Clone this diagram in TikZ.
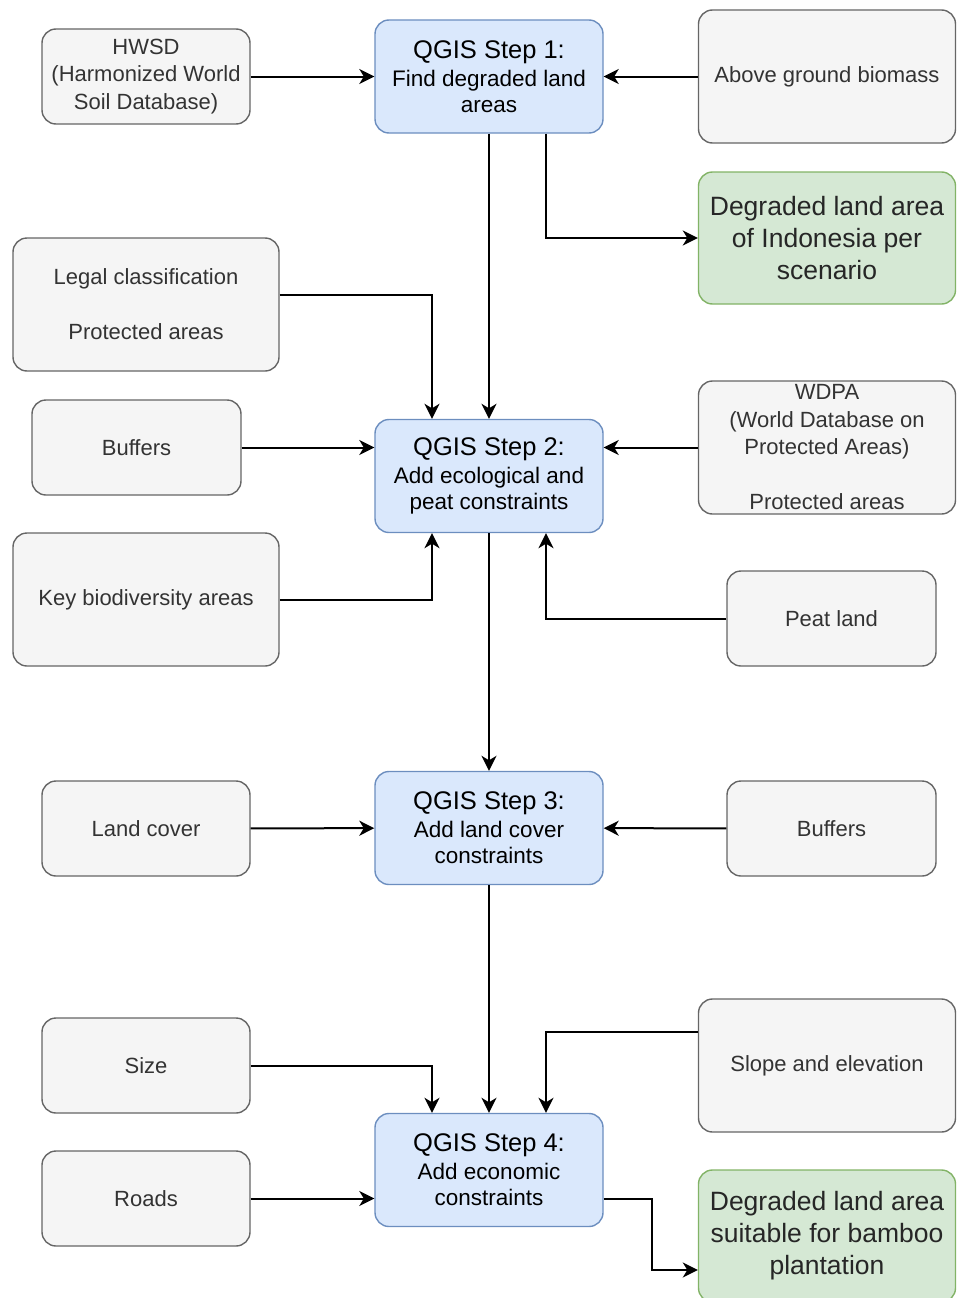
\documentclass[tikz,border=0pt]{standalone}
\usepackage{fontspec}
\setmainfont{Liberation Sans}
\usepackage{tikz}
\usetikzlibrary{positioning, calc, shapes, arrows.meta}

\definecolor{grayfill}{HTML}{F5F5F5}
\definecolor{grayline}{HTML}{666666}
\definecolor{graytext}{HTML}{333333}
\definecolor{bluefill}{HTML}{DAE8FC}
\definecolor{blueline}{HTML}{6C8EBF}
\definecolor{greenfill}{HTML}{D5E8D4}
\definecolor{greenline}{HTML}{82B366}

\newcommand{\steptitle}{\fontsize{25.5}{30}\selectfont}

\tikzset{
	databox/.style = {draw = grayline, fill = grayfill, text = graytext, line width = 1.4pt,
		rounded corners = 14pt, align = center, inner sep = 0pt,
		font = \fontsize{22}{27.5}\selectfont},
	stepbox/.style = {draw = blueline, fill = bluefill, text = black, line width = 1.4pt,
		rounded corners = 14pt, align = center, inner sep = 0pt,
		minimum width = 228pt, minimum height = 113pt,
		font = \fontsize{22.5}{26}\selectfont},
	resultbox/.style = {draw = greenline, fill = greenfill, text = black!85, line width = 1.4pt,
		rounded corners = 14pt, align = center, inner sep = 0pt,
		minimum width = 257pt, minimum height = 132pt,
		font = \fontsize{26.5}{32}\selectfont},
	flow/.style = {line width = 2pt, -{Stealth[length = 15pt, width = 15pt, inset = 4.5pt]}}
}

\begin{document}
\begin{tikzpicture}[x = 1pt, y = -1pt]
	\useasboundingbox (0,0) rectangle (956,1298);

	\node[stepbox] (step1) at (489,76.5) {{\steptitle QGIS Step 1:}\\[2pt]Find degraded land\\areas};
	\node[stepbox] (step2) at (489,476) {{\steptitle QGIS Step 2:}\\[2pt]Add ecological and\\peat constraints};
	\node[stepbox] (step3) at (489,828) {{\steptitle QGIS Step 3:}\\[2pt]Add land cover\\constraints};
	\node[stepbox] (step4) at (489,1170) {{\steptitle QGIS Step 4:}\\[2pt]Add economic\\constraints};

	\node[databox, minimum width = 208pt, minimum height = 95pt] (hwsd) at (146,76.5) {HWSD\\(Harmonized World\\Soil Database)};
	\node[databox, minimum width = 257pt, minimum height = 133pt] (biomass) at (827,76.5) {Above ground biomass};
	\node[resultbox] (degraded) at (827,238) {Degraded land area\\of Indonesia per\\scenario};

	\node[databox, minimum width = 266pt, minimum height = 133pt] (legal) at (146,304.5) {Legal classification\\\\Protected areas};
	\node[databox, minimum width = 209pt, minimum height = 95pt] (buffersleft) at (136.5,447.5) {Buffers};
	\node[databox, minimum width = 257pt, minimum height = 133pt] (wdpa) at (827,447.5) {WDPA\\(World Database on\\Protected Areas)\\\\Protected areas};
	\node[databox, minimum width = 266pt, minimum height = 133pt] (keybio) at (146,599.5) {Key biodiversity areas};
	\node[databox, minimum width = 209pt, minimum height = 95pt] (peat) at (831.5,618.5) {Peat land};

	\node[databox, minimum width = 208pt, minimum height = 95pt] (landcover) at (146,828.5) {Land cover};
	\node[databox, minimum width = 209pt, minimum height = 95pt] (buffersright) at (831.5,828.5) {Buffers};

	\node[databox, minimum width = 208pt, minimum height = 95pt] (size) at (146,1065.5) {Size};
	\node[databox, minimum width = 257pt, minimum height = 133pt] (slope) at (827,1065.5) {Slope and elevation};
	\node[databox, minimum width = 208pt, minimum height = 95pt] (roads) at (146,1198.5) {Roads};
	\node[resultbox] (suitable) at (827,1236) {Degraded land area\\suitable for bamboo\\plantation};

	\draw[flow] (hwsd) -- (step1);
	\draw[flow] (biomass) -- (step1);
	\draw[flow] (step1) -- (step2);
	\draw[flow] ([xshift = 57pt]step1.south) |- (degraded.west);

	\draw[flow] ([yshift = 9.5pt]legal.east) -| ([xshift = -57pt]step2.north);
	\draw[flow] (buffersleft.east) -- (buffersleft.east -| step2.west);
	\draw[flow] (wdpa.west) -- (wdpa.west -| step2.east);
	\draw[flow] (keybio.east) -| ([xshift = -57pt]step2.south);
	\draw[flow] (peat.west) -| ([xshift = 57pt]step2.south);
	\draw[flow] (step2) -- (step3);

	\draw[flow] (landcover) -- (step3);
	\draw[flow] (buffersright) -- (step3);
	\draw[flow] (step3) -- (step4);

	\draw[flow] (size.east) -| ([xshift = -57pt]step4.north);
	\draw[flow] ([yshift = 33.5pt]slope.west) -| ([xshift = 57pt]step4.north);
	\draw[flow] (roads.east) -- (roads.east -| step4.west);
	\draw[flow] ([yshift = -29pt]step4.east) -- ++(48,0) |- ([yshift = -34pt]suitable.west);
\end{tikzpicture}
\end{document}
